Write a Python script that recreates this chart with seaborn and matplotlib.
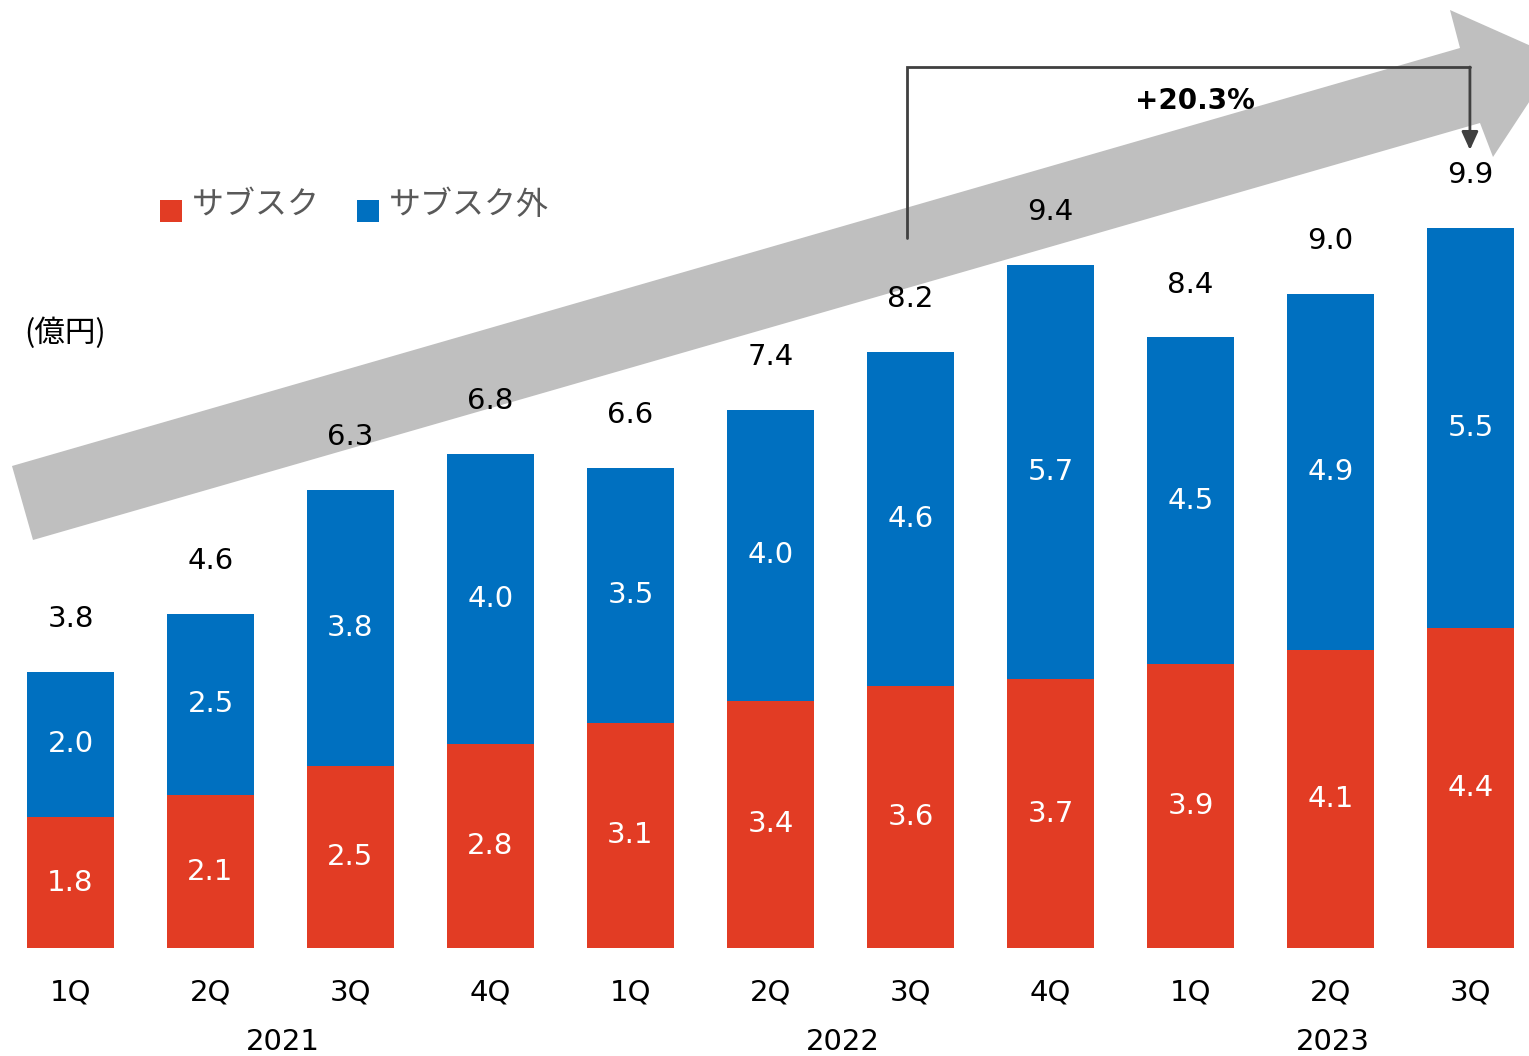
import matplotlib
matplotlib.use("Agg")
import matplotlib.pyplot as plt
import matplotlib.transforms as mtransforms
from matplotlib.patches import Polygon, Rectangle
import seaborn as sns
import pandas as pd

# ---- data -------------------------------------------------------------
years = ["2021", "2021", "2021", "2021", "2022", "2022", "2022", "2022",
         "2023", "2023", "2023"]
quarters = ["1Q", "2Q", "3Q", "4Q", "1Q", "2Q", "3Q", "4Q", "1Q", "2Q", "3Q"]
subscription = [1.8, 2.1, 2.5, 2.8, 3.1, 3.4, 3.6, 3.7, 3.9, 4.1, 4.4]
non_subscription = [2.0, 2.5, 3.8, 4.0, 3.5, 4.0, 4.6, 5.7, 4.5, 4.9, 5.5]
totals = [3.8, 4.6, 6.3, 6.8, 6.6, 7.4, 8.2, 9.4, 8.4, 9.0, 9.9]
growth_label = "+20.3%"
unit_label = "(億円)"
legend_labels = ["サブスク", "サブスク外"]

# ---- style ------------------------------------------------------------
RED = "#E23C24"
BLUE = "#0070C0"
ARROW_GRAY = "#BFBFBF"
LINE_GRAY = "#404040"
LEGEND_TEXT = "#595959"
JP = ["Noto Sans CJK JP", "DejaVu Sans"]
FS = 21

sns.set_theme(style="white")
plt.rcParams["font.family"] = ["DejaVu Sans", "Noto Sans CJK JP"]

W, H = 1529, 1056
PX_PER_UNIT = 72.7
BASE = 948  # baseline row of the bars, counted from the top

fig = plt.figure(figsize=(W / 100, H / 100), dpi=100)
ax = fig.add_axes([0, (H - BASE) / H, 1, BASE / H])

periods = [f"{y} {q}" for y, q in zip(years, quarters)]
stack_top = [s + n for s, n in zip(subscription, non_subscription)]
df = pd.DataFrame({"period": periods, "sub": subscription, "top": stack_top})

# stacked bars: full stack in blue, subscription share overlaid in red
sns.barplot(data=df, x="period", y="top", color=BLUE, saturation=1,
            width=0.62, linewidth=0, ax=ax, zorder=2)
sns.barplot(data=df, x="period", y="sub", color=RED, saturation=1,
            width=0.62, linewidth=0, ax=ax, zorder=3)

ax.set_xlim(-0.5036, 10.418)
ax.set_ylim(0, BASE / PX_PER_UNIT)
ax.set_xlabel("")
ax.set_ylabel("")
ax.set_yticks([])
ax.set_xticks(range(len(quarters)))
ax.set_xticklabels(quarters)
ax.tick_params(axis="x", length=0, pad=22, labelsize=FS, labelcolor="black")
sns.despine(ax=ax, left=True, bottom=True)
ax.patch.set_alpha(0)

# ---- growth arrow in the background ------------------------------------
arrow_px = [(12, 466), (1460, 48), (1450, 10), (1558, 58),
            (1493, 157), (1480, 123), (33, 540)]
arrow = Polygon([(x / W, 1 - y / H) for x, y in arrow_px], closed=True,
                transform=fig.transFigure, facecolor=ARROW_GRAY,
                edgecolor="none", zorder=1, clip_on=False)
ax.add_patch(arrow)

# ---- value labels -------------------------------------------------------
for i, (s, n, t) in enumerate(zip(subscription, non_subscription, totals)):
    ax.text(i, s / 2, f"{s:.1f}", color="white", fontsize=FS,
            ha="center", va="center", zorder=5)
    ax.text(i, s + n / 2, f"{n:.1f}", color="white", fontsize=FS,
            ha="center", va="center", zorder=5)
    ax.annotate(f"{t:.1f}", (i, t), xytext=(0, 38), textcoords="offset points",
                color="black", fontsize=FS, ha="center", va="center", zorder=5)

# ---- year labels under the quarters -------------------------------------
year_tf = mtransforms.blended_transform_factory(ax.transData, fig.transFigure)
for yr in ["2021", "2022", "2023"]:
    idx = [i for i, y in enumerate(years) if y == yr]
    ax.text(sum(idx) / len(idx) + 0.02, 1 - 1050 / H, yr, transform=year_tf,
            ha="center", va="baseline", fontsize=FS, color="black",
            clip_on=False)

# ---- growth bracket 3Q 2022 -> 3Q 2023 ----------------------------------
def yd(py):
    return (BASE - py) / PX_PER_UNIT

x0, x1 = 5.975, 9.996
ax.plot([x0, x0, x1], [yd(238), yd(67), yd(67)], color=LINE_GRAY,
        lw=2, zorder=4, solid_joinstyle="miter", clip_on=False)
ax.annotate("", xy=(x1, yd(150)), xytext=(x1, yd(67)),
            arrowprops=dict(arrowstyle="-|>,head_width=0.25,head_length=0.55",
                            color=LINE_GRAY, lw=2, mutation_scale=20,
                            shrinkA=0, shrinkB=0), zorder=4)
ax.text((1195 - 70.5) / 140, yd(101), growth_label, fontsize=20,
        fontweight="bold", ha="center", va="center", color="black", zorder=5)

# ---- legend and unit -----------------------------------------------------
for (px, col, lab) in [(160, RED, legend_labels[0]), (357, BLUE, legend_labels[1])]:
    fig.patches.append(Rectangle((px / W, 1 - 222 / H), 22 / W, 22 / H,
                                 transform=fig.transFigure, facecolor=col,
                                 edgecolor="none"))
    fig.text((px + 32) / W, 1 - 205 / H, lab, family=JP, fontsize=23,
             color=LEGEND_TEXT, ha="left", va="center")

fig.text(24 / W, 1 - 333 / H, unit_label, family=JP, fontsize=22,
         color="black", ha="left", va="center")

fig.savefig("out.png", dpi=100)
